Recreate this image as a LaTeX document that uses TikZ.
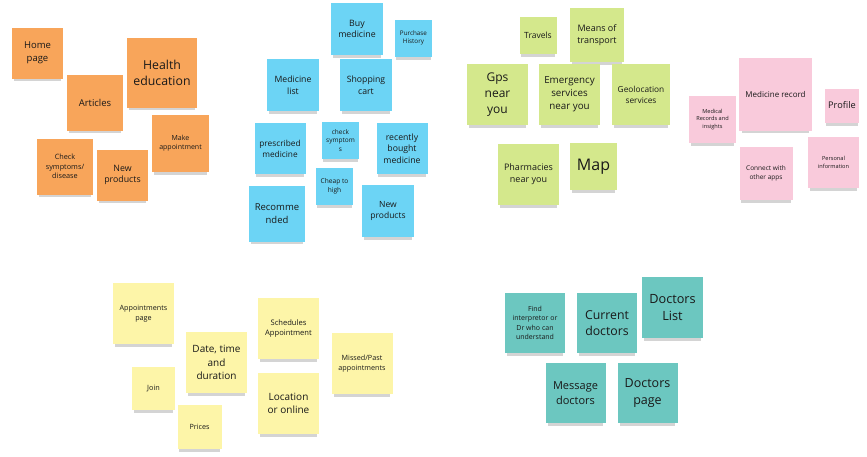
\documentclass[tikz,border=0pt]{standalone}
\usepackage{fontspec}
\setmainfont{Open Sans}
\usetikzlibrary{shadows}

\definecolor{orangenote}{HTML}{F8A55A}
\definecolor{bluenote}{HTML}{6CD4F5}
\definecolor{greennote}{HTML}{D4E88C}
\definecolor{pinknote}{HTML}{F9CADB}
\definecolor{yellownote}{HTML}{FDF5A8}
\definecolor{tealnote}{HTML}{6CC7C0}
\newcommand{\notefont}[1]{\fontsize{#1}{\fpeval{1.33*#1}}\selectfont}

\begin{document}
\begin{tikzpicture}[x=1pt, y=-1pt,
	note/.style={inner sep=1pt, align=center, text=black!90,
		drop shadow={shadow xshift=0pt, shadow yshift=-5pt, shadow scale=0.93, opacity=0.17, fill=black}},
	sq/.style={note, minimum width=#1, minimum height=#1}]
	\useasboundingbox[fill=white] (0,0) rectangle (867,456);
	\node[sq=51, fill=orangenote, font=\notefont{9.5}] (home) at (37.5,53) {Home\\page};
	\node[sq=70, fill=orangenote, font=\notefont{12.3}] (hedu) at (162,73) {Health\\education};
	\node[sq=56, fill=orangenote, font=\notefont{9.5}] (articles) at (95,102.5) {Articles};
	\node[sq=57, fill=orangenote, font=\notefont{7}] (makeapp) at (180.5,143.5) {Make\\appointment};
	\node[sq=56, fill=orangenote, font=\notefont{7.3}] (checkdis) at (65,166.5) {Check\\symptoms/\\disease};
	\node[sq=51, fill=orangenote, font=\notefont{8.8}] (newprod) at (122.5,175) {New\\products};
	\node[sq=52, fill=bluenote, font=\notefont{8.8}] (buymed) at (357,29) {Buy\\medicine};
	\node[sq=37, fill=bluenote, font=\notefont{6.3}] (purchase) at (413.5,38) {Purchase\\History};
	\node[sq=52, fill=bluenote, font=\notefont{8.7}] (medlist) at (293,85) {Medicine\\list};
	\node[sq=52, fill=bluenote, font=\notefont{8.7}] (cart) at (366,85) {Shopping\\cart};
	\node[sq=51, fill=bluenote, font=\notefont{8.3}] (prescr) at (280,148.5) {prescribed\\medicine};
	\node[sq=37, fill=bluenote, font=\notefont{6.5}] (checksym) at (340.5,140.5) {check\\symptom\\s};
	\node[sq=51, fill=bluenote, font=\notefont{8.7}] (recent) at (402,148.5) {recently\\bought\\medicine};
	\node[sq=37, fill=bluenote, font=\notefont{6.6}] (cheap) at (334.5,186.5) {Cheap to\\high};
	\node[sq=56, fill=bluenote, font=\notefont{9.5}] (recomm) at (277,213.5) {Recomme\\nded};
	\node[sq=52, fill=bluenote, font=\notefont{8.5}] (newprodb) at (388,211) {New\\products};
	\node[sq=37, fill=greennote, font=\notefont{8.5}] (travels) at (538,35.5) {Travels};
	\node[sq=54, fill=greennote, font=\notefont{9}] (transport) at (597,35) {Means of\\transport};
	\node[sq=61, fill=greennote, font=\notefont{12}] (gps) at (497.5,94.5) {Gps\\near\\you};
	\node[sq=61, fill=greennote, font=\notefont{9.8}] (emerg) at (569.5,94.5) {Emergency\\services\\near you};
	\node[note, minimum width=58, minimum height=61, fill=greennote, font=\notefont{8.3}] (geo) at (641,94.5) {Geolocation\\services};
	\node[sq=61, fill=greennote, font=\notefont{9}] (pharm) at (528.5,174.5) {Pharmacies\\near you};
	\node[sq=47, fill=greennote, font=\notefont{16}] (map) at (593.5,166.5) {Map};
	\node[sq=73, fill=pinknote, font=\notefont{8}] (medrec) at (775.5,94) {Medicine record};
	\node[sq=47, fill=pinknote, font=\notefont{5.6}] (insights) at (712.5,119.5) {Medical\\Records and\\insights};
	\node[sq=34, fill=pinknote, font=\notefont{9.2}] (profile) at (842,105.5) {Profile};
	\node[sq=53, fill=pinknote, font=\notefont{6.5}] (connect) at (766,173.5) {Connect with\\other apps};
	\node[sq=51, fill=pinknote, font=\notefont{5.6}] (personal) at (833.5,162.5) {Personal\\information};
	\node[sq=61, fill=yellownote, font=\notefont{7.2}] (apppage) at (143.5,313.5) {Appointments\\page};
	\node[sq=61, fill=yellownote, font=\notefont{10}] (datetime) at (216.5,362.5) {Date, time\\and\\duration};
	\node[sq=61, fill=yellownote, font=\notefont{7.6}] (sched) at (288.5,328.5) {Schedules\\Appointment};
	\node[sq=61, fill=yellownote, font=\notefont{7.2}] (missed) at (362,363.5) {Missed/Past\\appointments};
	\node[sq=43, fill=yellownote, font=\notefont{7.3}] (join) at (153.5,388.5) {Join};
	\node[sq=61, fill=yellownote, font=\notefont{10}] (location) at (288.5,403.5) {Location\\or online};
	\node[sq=44, fill=yellownote, font=\notefont{7.2}] (prices) at (199.5,426.5) {Prices};
	\node[sq=60, fill=tealnote, font=\notefont{7}] (interp) at (535,323) {Find\\interpretor or\\Dr who can\\understand};
	\node[sq=60, fill=tealnote, font=\notefont{12.3}] (current) at (607,323) {Current\\doctors};
	\node[sq=61, fill=tealnote, font=\notefont{12.7}] (doclist) at (672.5,307.5) {Doctors\\List};
	\node[sq=60, fill=tealnote, font=\notefont{11}] (message) at (575.5,393) {Message\\doctors};
	\node[sq=60, fill=tealnote, font=\notefont{12.5}] (docpage) at (647.5,393) {Doctors\\page};
\end{tikzpicture}
\end{document}
